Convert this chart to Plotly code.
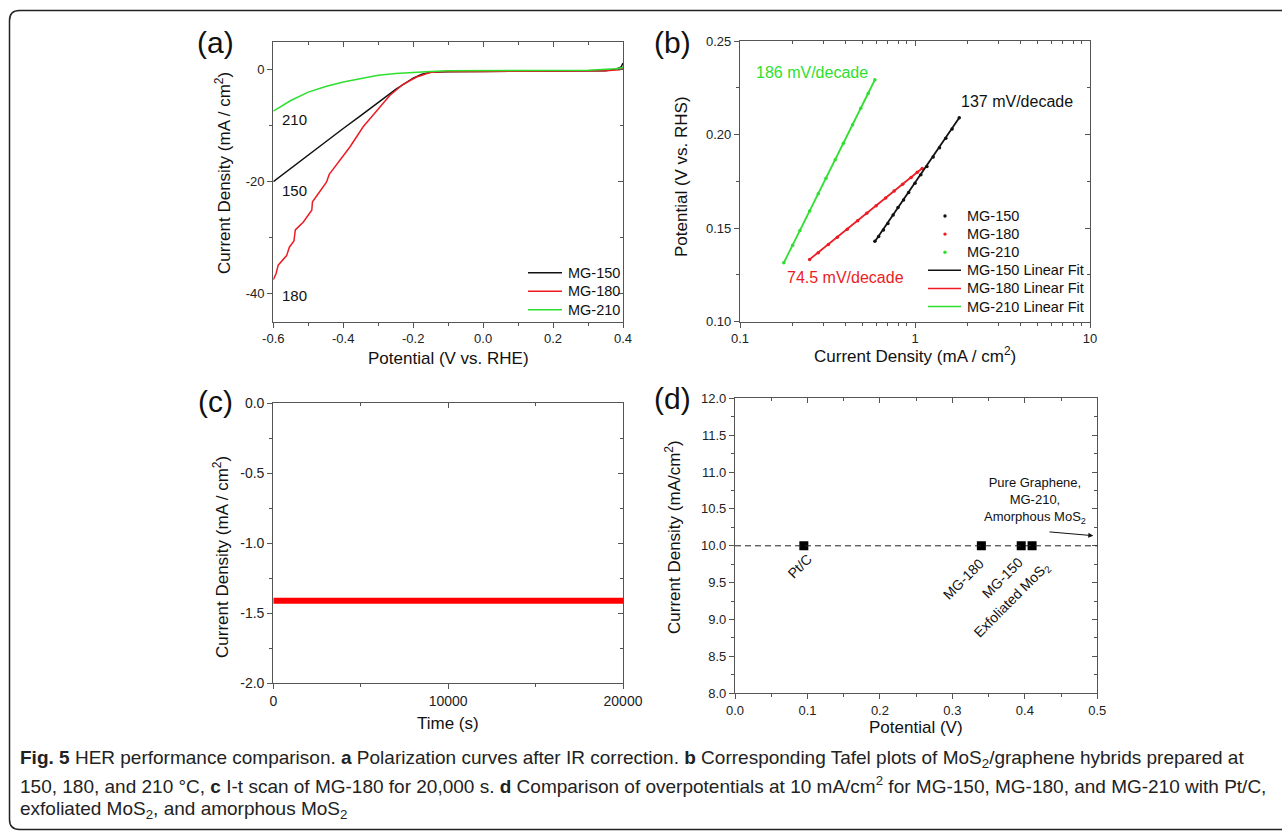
import math
import plotly.graph_objects as go

W, H = 1282, 833

# ---------------- DATA ----------------
# (a) polarization curves
a_pot_150 = [-0.6, -0.55, -0.5, -0.45, -0.4, -0.35, -0.3, -0.25, -0.2, -0.175, -0.15, -0.1, 0.0, 0.2, 0.35, 0.38, 0.395, 0.4]
a_cur_150 = [-20.0, -17.6, -15.2, -12.9, -10.5, -8.2, -5.9, -3.5, -1.5, -0.8, -0.45, -0.35, -0.3, -0.25, -0.2, 0.1, 0.5, 1.2]
a_pot_180 = [-0.6, -0.592, -0.586, -0.562, -0.554, -0.541, -0.537, -0.514, -0.490, -0.488, -0.471, -0.448,
             -0.440, -0.410, -0.381, -0.343, -0.305, -0.267, -0.229, -0.190, -0.152, -0.114, 0.0, 0.2, 0.35, 0.39, 0.4]
a_cur_180 = [-37.5, -36.4, -34.9, -33.2, -31.7, -30.6, -28.6, -27.2, -25.1, -23.6, -22.1, -20.1,
             -18.7, -16.2, -13.8, -10.2, -7.3, -4.6, -2.6, -1.3, -0.5, -0.3, -0.3, -0.25, -0.2, 0.0, 0.2]
a_pot_210 = [-0.6, -0.55, -0.5, -0.45, -0.4, -0.35, -0.3, -0.25, -0.2, -0.15, -0.1, 0.0, 0.3, 0.38, 0.4]
a_cur_210 = [-7.4, -5.5, -4.0, -3.0, -2.2, -1.6, -1.0, -0.7, -0.45, -0.3, -0.2, -0.15, -0.1, 0.15, 0.4]
a_series = ["MG-150", "MG-180", "MG-210"]
a_curve_labels = ["150", "180", "210"]
a_label_pos = [-21.5, -40.3, -8.9]

# (b) Tafel plots
b_series = ["MG-150", "MG-180", "MG-210"]
b_j_150 = [0.59, 0.62, 0.66, 0.70, 0.75, 0.80, 0.86, 0.92, 1.00, 1.08, 1.17, 1.27, 1.38, 1.50, 1.63, 1.79]
b_e_150 = [0.143, 0.1455, 0.149, 0.1525, 0.157, 0.161, 0.165, 0.169, 0.174, 0.1785, 0.183, 0.188, 0.193, 0.198, 0.203, 0.209]
b_j_180 = [0.25, 0.28, 0.32, 0.36, 0.41, 0.47, 0.53, 0.60, 0.68, 0.76, 0.85, 0.95, 1.03, 1.10]
b_e_180 = [0.1333, 0.1369, 0.1413, 0.1451, 0.1494, 0.1539, 0.1579, 0.1620, 0.1661, 0.1698, 0.1734, 0.1771, 0.1798, 0.1819]
b_j_210 = [0.178, 0.20, 0.22, 0.25, 0.28, 0.31, 0.35, 0.39, 0.44, 0.49, 0.54, 0.59]
b_e_210 = [0.1315, 0.1409, 0.1487, 0.1591, 0.1684, 0.1767, 0.1866, 0.1954, 0.2053, 0.2141, 0.2220, 0.2293]
b_fit_j = {"MG-150": [0.59, 1.79], "MG-180": [0.25, 1.10], "MG-210": [0.178, 0.59]}
b_fit_e = {"MG-150": [0.1428, 0.209], "MG-180": [0.1333, 0.182], "MG-210": [0.1315, 0.2293]}
b_slopes = {"MG-150": "137 mV/decade", "MG-180": "74.5 mV/decade", "MG-210": "186 mV/decade"}

# (c) I-t scan
c_time = [0, 5000, 10000, 15000, 20000]
c_cur = [-1.41, -1.41, -1.41, -1.41, -1.41]

# (d) overpotentials at 10 mA/cm2
d_names = ["Pt/C", "MG-180", "MG-150", "Exfoliated MoS<sub>2</sub>"]
d_pot = [0.095, 0.34, 0.395, 0.41]
d_cur = [10, 10, 10, 10]
d_level = 10.0

# tick labels
a_xt = [-0.6, -0.4, -0.2, 0.0, 0.2, 0.4]
a_xl = ["-0.6", "-0.4", "-0.2", "0.0", "0.2", "0.4"]
a_yt = [0, -20, -40]
a_yl = ["0", "-20", "-40"]
b_xt = [0.1, 1, 10]
b_xl = ["0.1", "1", "10"]
b_yt = [0.10, 0.15, 0.20, 0.25]
b_yl = ["0.10", "0.15", "0.20", "0.25"]
c_xt = [0, 10000, 20000]
c_xl = ["0", "10000", "20000"]
c_yt = [0.0, -0.5, -1.0, -1.5, -2.0]
c_yl = ["0.0", "-0.5", "-1.0", "-1.5", "-2.0"]
d_xt = [0.0, 0.1, 0.2, 0.3, 0.4, 0.5]
d_xl = ["0.0", "0.1", "0.2", "0.3", "0.4", "0.5"]
d_yt = [8.0, 8.5, 9.0, 9.5, 10.0, 10.5, 11.0, 11.5, 12.0]
d_yl = ["8.0", "8.5", "9.0", "9.5", "10.0", "10.5", "11.0", "11.5", "12.0"]

# ---------------- STYLE ----------------
FONT = "Arial, Liberation Sans, sans-serif"
BLACK = "#111111"
RED = "#ec1c24"
GREEN = "#2ee02e"
AX = "#555555"
colors = {"MG-150": BLACK, "MG-180": RED, "MG-210": GREEN}


def px(x):
    return x / W


def py(y):
    return 1 - y / H


fig = go.Figure()

# (a)
for name, xs, ys in zip(a_series, [a_pot_150, a_pot_180, a_pot_210], [a_cur_150, a_cur_180, a_cur_210]):
    fig.add_trace(go.Scatter(x=xs, y=ys, mode="lines", name=name, line=dict(color=colors[name], width=1.5),
                             xaxis="x", yaxis="y", showlegend=False))
# (b)
for name, xs, ys in zip(b_series, [b_j_150, b_j_180, b_j_210], [b_e_150, b_e_180, b_e_210]):
    fig.add_trace(go.Scatter(x=xs, y=ys, mode="markers", name=name,
                             marker=dict(color=colors[name], size=3.5), xaxis="x2", yaxis="y2", showlegend=False))
for name in b_series:
    fig.add_trace(go.Scatter(x=b_fit_j[name], y=b_fit_e[name], mode="lines", name=name + " Linear Fit",
                             line=dict(color=colors[name], width=1.8), xaxis="x2", yaxis="y2", showlegend=False))
# (c)
fig.add_trace(go.Scatter(x=c_time, y=c_cur, mode="lines", line=dict(color="#ff0000", width=6),
                         showlegend=False, xaxis="x3", yaxis="y3"))
# (d)
fig.add_trace(go.Scatter(x=d_pot, y=d_cur, mode="markers",
                         marker=dict(symbol="square", color="black", size=9), showlegend=False,
                         xaxis="x4", yaxis="y4"))


def axis(domain, anchor, rng, tv, tt, fs, minor=None, typ="linear"):
    d = dict(domain=domain, anchor=anchor, range=rng, type=typ, tickvals=tv, ticktext=tt,
             showline=True, linecolor=AX, linewidth=1.3, mirror=True, ticks="outside", ticklen=5,
             tickwidth=1.2, tickcolor=AX, showgrid=False, zeroline=False, automargin=False,
             tickfont=dict(family=FONT, size=fs, color="#222"))
    if minor is not None:
        d["minor"] = dict(ticks="outside", ticklen=3, tickwidth=1, tickcolor=AX, showgrid=False, **minor)
    return d


def mirror_axis(overlay, anchor, side, rng, tv, minor=None, typ="linear"):
    d = dict(overlaying=overlay, anchor=anchor, side=side, range=rng, type=typ, tickvals=tv,
             showticklabels=False, showline=False, ticks="inside", ticklen=5, tickwidth=1.2, tickcolor=AX,
             showgrid=False, zeroline=False, automargin=False)
    if minor is not None:
        d["minor"] = dict(ticks="inside", ticklen=3, tickwidth=1, tickcolor=AX, showgrid=False, **minor)
    return d


b_minor = [v * m for v in [0.1, 1] for m in range(2, 10)]

panels = [
    # xdom, ydom, xrange, yrange, xt, xl, yt, yl, xfs, yfs, xminor, yminor, xtype
    ([px(273.3), px(623.0)], [py(321.7), py(41.7)], [-0.6, 0.4], [-45, 5], a_xt, a_xl, a_yt, a_yl, 13, 13,
     dict(dtick=0.1), dict(dtick=10), "linear"),
    ([px(740), px(1090)], [py(321.7), py(41)], [-1, 1], [0.10, 0.25], b_xt, b_xl, b_yt, b_yl, 13, 13,
     dict(tickvals=b_minor), dict(dtick=0.025), "log"),
    ([px(273.3), px(623.0)], [py(683.3), py(403.3)], [0, 20000], [-2, 0], c_xt, c_xl, c_yt, c_yl, 14, 14,
     dict(dtick=5000), dict(dtick=0.25), "linear"),
    ([px(735), px(1097.3)], [py(693.3), py(398.3)], [0, 0.5], [8, 12], d_xt, d_xl, d_yt, d_yl, 13, 13,
     dict(dtick=0.05), dict(dtick=0.25), "linear"),
]

lay = {}
for i, (xd, yd, xr, yr, xt, xl, yt, yl, xfs, yfs, xmin, ymin, xtyp) in enumerate(panels):
    n = i + 1
    sx = "" if n == 1 else str(n)
    lay["xaxis" + sx] = axis(xd, "y" + sx, xr, xt, xl, xfs, xmin, xtyp)
    lay["yaxis" + sx] = axis(yd, "x" + sx, yr, yt, yl, yfs, ymin)
    m = str(n + 4)
    lay["xaxis" + m] = mirror_axis("x" + sx, "y" + m, "top", xr, xt, xmin, xtyp)
    lay["yaxis" + m] = mirror_axis("y" + sx, "x" + m, "right", yr, yt, ymin)
    fig.add_trace(go.Scatter(x=[], y=[], xaxis="x" + m, yaxis="y" + m, showlegend=False, hoverinfo="skip"))

fig.update_layout(width=W, height=H, margin=dict(l=0, r=0, t=0, b=0, pad=0, autoexpand=False),
                  paper_bgcolor="white", plot_bgcolor="white",
                  font=dict(family=FONT, color="#111"), showlegend=False, **lay)

ann = []
shapes = []


def txt(x, y, s, size, color="#111", angle=0, xanchor="center"):
    ann.append(dict(x=px(x), y=py(y), xref="paper", yref="paper", text=s, showarrow=False,
                    font=dict(family=FONT, size=size, color=color), textangle=angle,
                    xanchor=xanchor, yanchor="middle"))


# panel letters
for s, x, y in [("(a)", 215, 42), ("(b)", 672, 42), ("(c)", 215, 402), ("(d)", 672, 398)]:
    txt(x, y, s, 30)

# axis titles
txt(448, 358, "Potential (V vs. RHE)", 17)
txt(223, 173, "Current Density (mA / cm<sup>2</sup>)", 17, angle=-90)
txt(915, 355, "Current Density (mA / cm<sup>2</sup>)", 17)
txt(682, 177, "Potential (V vs. RHS)", 17, angle=-90)
txt(448, 723, "Time (s)", 17)
txt(221, 557, "Current Density (mA / cm<sup>2</sup>)", 17, angle=-90)
txt(916, 727, "Potential (V)", 17)
txt(673, 537, "Current Density (mA/cm<sup>2</sup>)", 17, angle=-90)

# (a) curve labels
for lab, yv in zip(a_curve_labels, a_label_pos):
    ann.append(dict(x=-0.6, y=yv, xref="x", yref="y", text=lab, showarrow=False, xanchor="left",
                    xshift=6.5, font=dict(family=FONT, size=15, color="#111")))

# (a) legend (manual)
for k, name in enumerate(a_series):
    yy = 272.7 + 18.5 * k
    shapes.append(dict(type="line", xref="paper", yref="paper", x0=px(528), x1=px(562), y0=py(yy), y1=py(yy),
                       line=dict(color=colors[name], width=1.5)))
    txt(566, yy, name, 14.5, xanchor="left")

# (b) legend (manual)
b_leg = [(n, "dot") for n in b_series] + [(n, "line") for n in b_series]
for k, (name, kind) in enumerate(b_leg):
    yy = 216 + 18.1 * k
    if kind == "dot":
        rr = 1.7
        shapes.append(dict(type="circle", xref="paper", yref="paper", x0=px(945 - rr), x1=px(945 + rr),
                           y0=py(yy - rr), y1=py(yy + rr), fillcolor=colors[name], line=dict(width=0)))
        txt(965, yy, name, 14.5, xanchor="left")
    else:
        shapes.append(dict(type="line", xref="paper", yref="paper", x0=px(928), x1=px(961), y0=py(yy), y1=py(yy),
                           line=dict(color=colors[name], width=1.5)))
        txt(965, yy, name + " Linear Fit", 14.5, xanchor="left")

# (b) slope labels
slope_pos = {"MG-150": (1.79, 0.209, 0, 16, "left"), "MG-180": (0.25, 0.1333, 36, -18, "center"),
             "MG-210": (0.59, 0.2293, -63, 7, "center")}
for name in b_series:
    xv, yv, xs, ys, xa = slope_pos[name]
    ann.append(dict(x=math.log10(xv), y=yv, xref="x2", yref="y2", text=b_slopes[name],
                    showarrow=False, xshift=xs, yshift=ys, xanchor=xa,
                    font=dict(family=FONT, size=16, color=colors[name])))

# (d) point labels (rotated)
d_shifts = [(-4, -20), (-18, -33), (-19, -32), (-20, -54)]
for name, xv, yv, (xs, ys) in zip(d_names, d_pot, d_cur, d_shifts):
    ann.append(dict(x=xv, y=yv, xref="x4", yref="y4", text=name, showarrow=False, textangle=-45,
                    xshift=xs, yshift=ys, font=dict(family=FONT, size=14, color="#111")))
ann.append(dict(x=0.414, y=10.62, xref="x4", yref="y4", text="Pure Graphene,<br>MG-210,<br>Amorphous MoS<sub>2</sub>",
                showarrow=False, font=dict(family=FONT, size=13, color="#111")))
ann.append(dict(x=0.4945, y=10.137, xref="x4", yref="y4", ax=0.432, ay=10.19, axref="x4", ayref="y4",
                text="", showarrow=True, arrowhead=2, arrowsize=1, arrowwidth=1, arrowcolor="#111"))

# caption
CAP = "Liberation Sans, Arial, sans-serif"
cap_lines = [
    "<b>Fig. 5</b> HER performance comparison. <b>a</b> Polarization curves after IR correction. <b>b</b> Corresponding Tafel plots of MoS<sub>2</sub>/graphene hybrids prepared at",
    "150, 180, and 210 °C, <b>c</b> I-t scan of MG-180 for 20,000 s. <b>d</b> Comparison of overpotentials at 10 mA/cm<sup>2</sup> for MG-150, MG-180, and MG-210 with Pt/C,",
    "exfoliated MoS<sub>2</sub>, and amorphous MoS<sub>2</sub>",
]
for i, line in enumerate(cap_lines):
    ann.append(dict(x=px(18), y=py(759 + 25.5 * i), xref="paper", yref="paper", text=line, showarrow=False,
                    xanchor="left", yanchor="middle", font=dict(family=CAP, size=19, color="#222")))

# frame border and reference line
r = 10
L, T, R, B = 9.5, 10.5, 1300, 829.5
path = (f"M {px(L)},{py(T + r)} Q {px(L)},{py(T)} {px(L + r)},{py(T)} L {px(R)},{py(T)} L {px(R)},{py(B)} "
        f"L {px(L + r)},{py(B)} Q {px(L)},{py(B)} {px(L)},{py(B - r)} Z")
shapes.append(dict(type="path", path=path, xref="paper", yref="paper", line=dict(color="#222", width=1.5)))
shapes.append(dict(type="line", xref="x4 domain", yref="y4", x0=0, x1=1, y0=d_level, y1=d_level,
                   line=dict(color="#222", width=1, dash="6px,4px")))

fig.update_layout(annotations=ann, shapes=shapes)

fig.write_html("out.html", config={"displayModeBar": False},
               post_script="document.body.style.margin='0';document.body.style.overflow='hidden';")
